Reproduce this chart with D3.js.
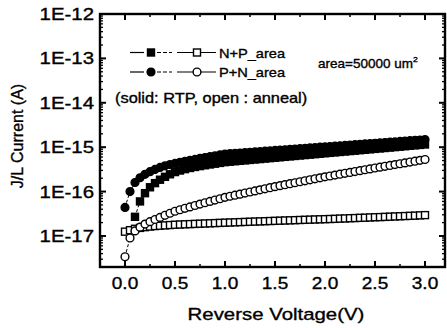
<!DOCTYPE html>
<html>
<head>
<meta charset="utf-8">
<script src="https://cdn.jsdelivr.net/npm/d3@7"></script>
<style>
  html, body { margin: 0; padding: 0; background: #fff; }
  svg { display: block; font-family: "Liberation Sans", Arial, sans-serif; }
</style>
</head>
<body>
<div id="chart"></div>
<script>
// reverse bias sweep, 0.05 V steps
var voltage = [0.00,0.05,0.10,0.15,0.20,0.25,0.30,0.35,0.40,0.45,0.50,0.55,0.60,0.65,0.70,0.75,0.80,0.85,0.90,0.95,
  1.00,1.05,1.10,1.15,1.20,1.25,1.30,1.35,1.40,1.45,1.50,1.55,1.60,1.65,1.70,1.75,1.80,1.85,1.90,1.95,
  2.00,2.05,2.10,2.15,2.20,2.25,2.30,2.35,2.40,2.45,2.50,2.55,2.60,2.65,2.70,2.75,2.80,2.85,2.90,2.95,3.00];

// N+P_area, RTP (solid square), first two points not plotted
var npRTP = [null,null,2.7e-17,6.0e-17,9.2e-17,1.25e-16,1.55e-16,1.85e-16,2.15e-16,2.45e-16,2.75e-16,2.98e-16,3.2e-16,3.4e-16,3.58e-16,3.75e-16,3.92e-16,4.08e-16,4.25e-16,4.42e-16,
  4.6e-16,4.71e-16,4.82e-16,4.93e-16,5.04e-16,5.16e-16,5.28e-16,5.4e-16,5.53e-16,5.66e-16,5.79e-16,5.92e-16,6.06e-16,6.2e-16,6.34e-16,6.49e-16,6.64e-16,6.79e-16,6.95e-16,7.11e-16,
  7.28e-16,7.45e-16,7.62e-16,7.8e-16,7.98e-16,8.16e-16,8.35e-16,8.54e-16,8.74e-16,8.94e-16,9.15e-16,9.36e-16,9.58e-16,9.8e-16,1.003e-15,1.026e-15,1.05e-15,1.074e-15,1.099e-15,1.124e-15,1.15e-15];

// P+N_area, RTP (solid circle)
var pnRTP = [4.4e-17,1.0e-16,1.6e-16,2.05e-16,2.45e-16,2.8e-16,3.15e-16,3.5e-16,3.8e-16,4.05e-16,4.3e-16,4.55e-16,4.8e-16,5.05e-16,5.3e-16,5.6e-16,5.85e-16,6.1e-16,6.4e-16,6.7e-16,
  7.0e-16,7.13e-16,7.27e-16,7.4e-16,7.54e-16,7.69e-16,7.83e-16,7.98e-16,8.13e-16,8.28e-16,8.44e-16,8.6e-16,8.76e-16,8.93e-16,9.1e-16,9.27e-16,9.44e-16,9.62e-16,9.8e-16,9.99e-16,
  1.018e-15,1.037e-15,1.056e-15,1.076e-15,1.097e-15,1.117e-15,1.138e-15,1.16e-15,1.182e-15,1.204e-15,1.227e-15,1.25e-15,1.274e-15,1.298e-15,1.322e-15,1.347e-15,1.373e-15,1.399e-15,1.425e-15,1.452e-15,1.48e-15];

// N+P_area, anneal (open square)
var npAnneal = [1.25e-17,1.35e-17,1.45e-17,1.52e-17,1.58e-17,1.63e-17,1.67e-17,1.7e-17,1.73e-17,1.76e-17,1.79e-17,1.81e-17,1.83e-17,1.85e-17,1.87e-17,1.89e-17,1.91e-17,1.93e-17,1.95e-17,1.97e-17,
  1.99e-17,2.01e-17,2.03e-17,2.05e-17,2.07e-17,2.09e-17,2.11e-17,2.13e-17,2.15e-17,2.17e-17,2.19e-17,2.21e-17,2.23e-17,2.25e-17,2.27e-17,2.29e-17,2.31e-17,2.33e-17,2.35e-17,2.37e-17,
  2.39e-17,2.41e-17,2.43e-17,2.46e-17,2.48e-17,2.51e-17,2.53e-17,2.56e-17,2.58e-17,2.61e-17,2.64e-17,2.66e-17,2.69e-17,2.72e-17,2.75e-17,2.78e-17,2.81e-17,2.84e-17,2.87e-17,2.91e-17,2.95e-17];

// P+N_area, anneal (open circle)
var pnAnneal = [3.4e-18,9.0e-18,1.3e-17,1.58e-17,1.85e-17,2.1e-17,2.35e-17,2.62e-17,2.92e-17,3.25e-17,3.6e-17,3.9e-17,4.2e-17,4.52e-17,4.86e-17,5.22e-17,5.6e-17,6.0e-17,6.44e-17,6.9e-17,
  7.42e-17,7.84e-17,8.29e-17,8.76e-17,9.26e-17,9.79e-17,1.035e-16,1.094e-16,1.156e-16,1.222e-16,1.292e-16,1.359e-16,1.43e-16,1.504e-16,1.582e-16,1.664e-16,1.751e-16,1.842e-16,1.938e-16,2.039e-16,
  2.145e-16,2.246e-16,2.352e-16,2.462e-16,2.578e-16,2.699e-16,2.826e-16,2.959e-16,3.098e-16,3.244e-16,3.396e-16,3.549e-16,3.709e-16,3.876e-16,4.05e-16,4.232e-16,4.423e-16,4.622e-16,4.83e-16,5.047e-16,5.274e-16];

var xTicks = [0.0,0.5,1.0,1.5,2.0,2.5,3.0];
var yTicks = [1e-17,1e-16,1e-15,1e-14,1e-13,1e-12];
var yTickLabels = ["1E-17","1E-16","1E-15","1E-14","1E-13","1E-12"];
var legendNames = ["N+P_area","P+N_area"];

var svgWidth = 447, svgHeight = 328;
var margin = {top: 14, right: 2, bottom: 61, left: 100};

var svg = d3.select("#chart").append("svg")
  .attr("width", svgWidth)
  .attr("height", svgHeight);

var x = d3.scaleLinear().domain([-0.25, 3.2]).range([margin.left, svgWidth - margin.right]);
var y = d3.scaleLog().domain([2e-18, 1e-12]).range([svgHeight - margin.bottom, margin.top]);

// text is a bit wide and heavy in the original scan, so stretch horizontally + thin stroke
function wideText(g, tx, ty, str, size, anchor, sx){
  return g.append("text")
    .attr("transform", "translate(" + tx + "," + ty + ") scale(" + sx + ",1)")
    .attr("text-anchor", anchor)
    .attr("font-size", size)
    .attr("fill", "#000")
    .attr("stroke", "#000")
    .attr("stroke-width", 0.35)
    .text(str);
}

var x0 = x.range()[0], x1 = x.range()[1], y0 = y.range()[0], y1 = y.range()[1];

// minor ticks
var minorY = [];
for (var e = -18; e < -12; e++){
  for (var m = 2; m < 10; m++){
    var v = m * Math.pow(10, e);
    if (v >= 2e-18 && v <= 1e-12) minorY.push(v);
  }
}
var minorX = [-0.25,0.25,0.75,1.25,1.75,2.25,2.75];

var ticks = svg.append("g").attr("stroke", "#000");
// left + right
ticks.selectAll(".ly").data(yTicks).enter().append("line")
  .attr("x1", x0).attr("x2", x0 + 6).attr("y1", d => y(d)).attr("y2", d => y(d)).attr("stroke-width", 2);
ticks.selectAll(".lym").data(minorY).enter().append("line")
  .attr("x1", x0).attr("x2", x0 + 3).attr("y1", d => y(d)).attr("y2", d => y(d)).attr("stroke-width", 1.3);
ticks.selectAll(".ry").data(yTicks).enter().append("line")
  .attr("x1", x1).attr("x2", x1 - 6).attr("y1", d => y(d)).attr("y2", d => y(d)).attr("stroke-width", 2);
ticks.selectAll(".rym").data(minorY).enter().append("line")
  .attr("x1", x1).attr("x2", x1 - 3).attr("y1", d => y(d)).attr("y2", d => y(d)).attr("stroke-width", 1.3);
// bottom + top
ticks.selectAll(".bx").data(xTicks).enter().append("line")
  .attr("x1", d => x(d)).attr("x2", d => x(d)).attr("y1", y0).attr("y2", y0 - 6).attr("stroke-width", 2);
ticks.selectAll(".bxm").data(minorX).enter().append("line")
  .attr("x1", d => x(d)).attr("x2", d => x(d)).attr("y1", y0).attr("y2", y0 - 3).attr("stroke-width", 1.5);
ticks.selectAll(".tx").data(xTicks).enter().append("line")
  .attr("x1", d => x(d)).attr("x2", d => x(d)).attr("y1", y1).attr("y2", y1 + 6).attr("stroke-width", 2);
ticks.selectAll(".txm").data(minorX).enter().append("line")
  .attr("x1", d => x(d)).attr("x2", d => x(d)).attr("y1", y1).attr("y2", y1 + 3).attr("stroke-width", 1.5);

// frame
svg.append("rect")
  .attr("x", x0).attr("y", y1).attr("width", x1 - x0).attr("height", y0 - y1)
  .attr("fill", "none").attr("stroke", "#000").attr("stroke-width", 2.4);

// tick labels
var lab = svg.append("g");
yTicks.forEach(function(d, i){
  wideText(lab, x0 - 6, y(d) + 6, yTickLabels[i], 17, "end", 1.2);
});
xTicks.forEach(function(d){
  wideText(lab, x(d), y0 + 22, d.toFixed(1), 17, "middle", 1.12);
});

// axis titles
wideText(svg, 276, 320, "Reverse Voltage(V)", 17, "middle", 1.2);
svg.append("text")
  .attr("transform", "translate(23,136) rotate(-90)")
  .attr("text-anchor", "middle")
  .attr("font-size", 16)
  .attr("stroke", "#000").attr("stroke-width", 0.35)
  .text("J/L Current (A)");

// series
var series = [
  {vals: npAnneal, shape: "square", filled: false},
  {vals: pnAnneal, shape: "circle", filled: false},
  {vals: npRTP, shape: "square", filled: true},
  {vals: pnRTP, shape: "circle", filled: true}
];

function drawMarker(g, cx, cy, shape, filled){
  if (shape === "square"){
    g.append("rect").attr("x", cx - 3.5).attr("y", cy - 3.5).attr("width", 7).attr("height", 7)
      .attr("fill", filled ? "#000" : "#fff").attr("stroke", "#000").attr("stroke-width", 1.4);
  } else {
    g.append("circle").attr("cx", cx).attr("cy", cy).attr("r", 3.9)
      .attr("fill", filled ? "#000" : "#fff").attr("stroke", "#000").attr("stroke-width", 1.4);
  }
}

var line = d3.line()
  .defined(d => d[1] != null)
  .x(d => x(d[0])).y(d => y(d[1]));

var plot = svg.append("g");
series.forEach(function(s){
  var pts = voltage.map((v, i) => [v, s.vals[i]]);
  plot.append("path").datum(pts)
    .attr("d", line).attr("fill", "none").attr("stroke", "#000")
    .attr("stroke-width", 1).attr("stroke-dasharray", "3,2");
  var g = plot.append("g");
  pts.forEach(function(p){
    if (p[1] != null) drawMarker(g, x(p[0]), y(p[1]), s.shape, s.filled);
  });
});

// legend
var leg = svg.append("g");
var legShapes = ["square", "circle"];
[52.5, 72].forEach(function(ly, i){
  leg.append("line").attr("x1", 130).attr("x2", 144).attr("y1", ly).attr("y2", ly).attr("stroke", "#000").attr("stroke-width", 1.2);
  leg.append("line").attr("x1", 157).attr("x2", 172).attr("y1", ly).attr("y2", ly).attr("stroke", "#000").attr("stroke-width", 1.2).attr("stroke-dasharray", "4,2");
  drawMarker(leg, 151, ly, legShapes[i], true);
  leg.append("line").attr("x1", 177).attr("x2", 216).attr("y1", ly).attr("y2", ly).attr("stroke", "#000").attr("stroke-width", 1.2);
  drawMarker(leg, 197, ly, legShapes[i], false);
  wideText(leg, 219, ly + 5, legendNames[i], 13.5, "start", 1.08);
});

var note = wideText(svg, 318, 68, "area=50000 um", 12.5, "start", 1.08);
note.append("tspan").attr("font-size", 8).attr("dy", -6).text("2");
wideText(svg, 115, 103, "(solid: RTP, open : anneal)", 14, "start", 1.17);
</script>
</body>
</html>
